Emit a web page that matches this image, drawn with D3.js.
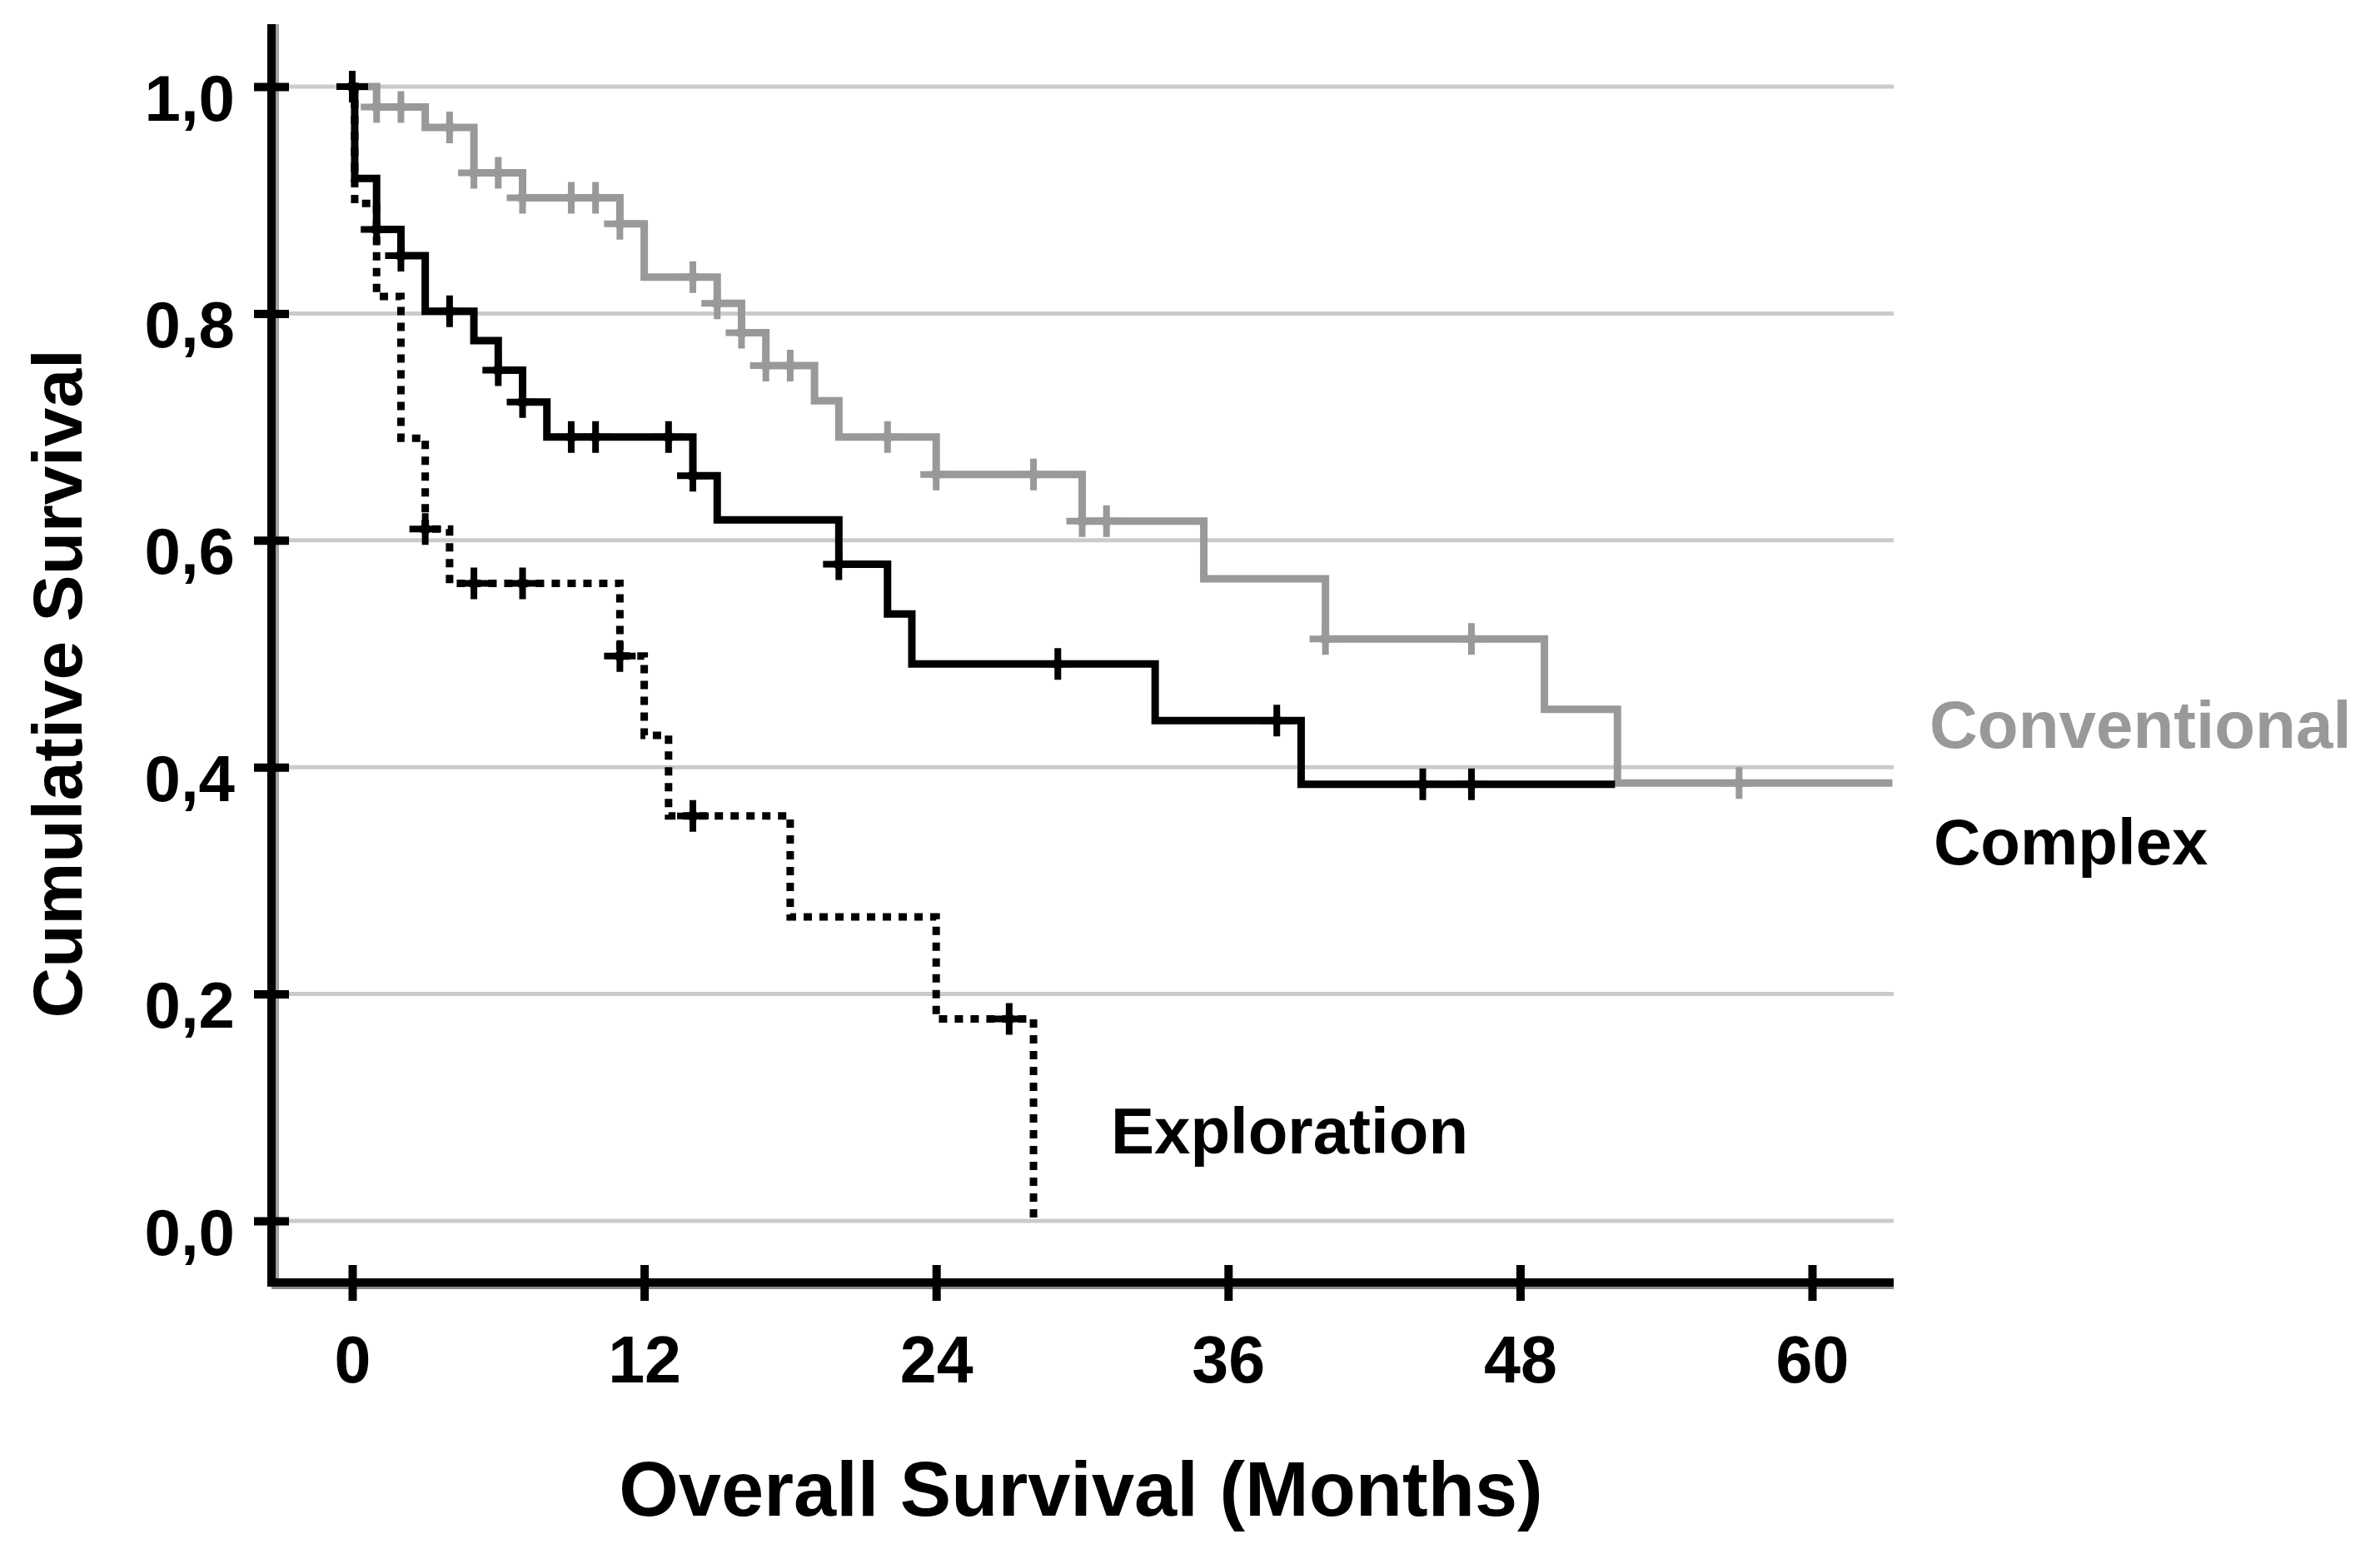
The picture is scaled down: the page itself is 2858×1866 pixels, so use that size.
<!DOCTYPE html>
<html>
<head>
<meta charset="utf-8">
<script src="https://d3js.org/d3.v7.min.js"></script>
<style>
body {
	margin: 0;
	background: #fff;
}
text {
	font-family: "Liberation Sans", Arial, sans-serif;
	font-weight: bold;
}
</style>
</head>
<body>
<div id="chart"></div>
<script>
	// survival steps (months, cumulative survival)
	var conventionalTimes = [0, 1, 3, 5, 7, 11, 12, 15, 16, 17, 19, 20, 24, 30, 35, 40, 49, 52, 63.3];
	var conventionalSurv  = [1.0, 0.982, 0.964, 0.924, 0.902, 0.879, 0.832, 0.809, 0.783, 0.754, 0.723, 0.691, 0.658, 0.617, 0.566, 0.513, 0.451, 0.386, 0.386];
	var conventionalCensored = [1, 2, 4, 5, 6, 7, 9, 10, 11, 14, 15, 16, 17, 18, 22, 24, 28, 30, 31, 40, 46, 57];

	var complexTimes = [0, 0.1, 1, 2, 3, 5, 6, 7, 8, 14, 15, 20, 22, 23, 33, 39, 51.9];
	var complexSurv  = [1.0, 0.919, 0.874, 0.851, 0.802, 0.776, 0.750, 0.722, 0.691, 0.657, 0.618, 0.579, 0.535, 0.491, 0.441, 0.385, 0.385];
	var complexCensored = [0, 1, 2, 4, 6, 7, 9, 10, 13, 14, 20, 29, 38, 44, 46];

	var explorationTimes = [0, 0.1, 1, 2, 3, 4, 11, 12, 13, 18, 24, 28];
	var explorationSurv  = [1.0, 0.897, 0.815, 0.690, 0.610, 0.562, 0.498, 0.428, 0.357, 0.268, 0.178, 0.0];
	var explorationCensored = [3, 5, 7, 11, 14, 27];

	var xTicks = [0, 12, 24, 36, 48, 60];
	var xTickLabels = ["0", "12", "24", "36", "48", "60"];
	var yTicks = [0, 0.2, 0.4, 0.6, 0.8, 1.0];
	var yTickLabels = ["0,0", "0,2", "0,4", "0,6", "0,8", "1,0"];

	var gray = "#999999";

	var W = 2858, H = 1866;
	var svg = d3.select("#chart").append("svg")
		.attr("width", W)
		.attr("height", H);

	svg.append("rect").attr("width", W).attr("height", H).attr("fill", "#fff");

	var x = d3.scaleLinear().domain([0, 60]).range([423, 2176]);
	var y = d3.scaleLinear().domain([0, 1]).range([1466, 104]);

	var axisX = 326, axisY = 1540, plotRight = 2274, plotTop = 29;

	// gridlines
	svg.append("g").selectAll("line")
		.data(yTicks)
		.enter().append("line")
		.attr("x1", axisX + 21)
		.attr("x2", plotRight)
		.attr("y1", d => y(d))
		.attr("y2", d => y(d))
		.attr("stroke", "#cbcbcb")
		.attr("stroke-width", 5);

	// axis shadows
	svg.append("line")
		.attr("x1", axisX + 7).attr("x2", axisX + 7)
		.attr("y1", plotTop).attr("y2", axisY + 5)
		.attr("stroke", "#a0a0a0").attr("stroke-width", 4);
	svg.append("line")
		.attr("x1", axisX).attr("x2", plotRight)
		.attr("y1", axisY + 6).attr("y2", axisY + 6)
		.attr("stroke", "#8a8a8a").attr("stroke-width", 4);

	// y axis
	var yAxis = svg.append("g")
		.attr("transform", "translate(" + axisX + ",0)")
		.call(d3.axisLeft(y).tickValues(yTicks)
			.tickFormat((d, i) => yTickLabels[i])
			.tickSize(21).tickPadding(0));
	yAxis.select(".domain").remove();
	yAxis.selectAll(".tick line")
		.attr("x1", -21).attr("x2", 21)
		.attr("stroke", "#000").attr("stroke-width", 10);
	yAxis.selectAll(".tick text")
		.attr("x", -44)
		.attr("dy", 40)
		.attr("fill", "#000")
		.style("font-size", "78px");

	svg.append("line")
		.attr("x1", axisX).attr("x2", axisX)
		.attr("y1", plotTop).attr("y2", axisY + 5)
		.attr("stroke", "#000").attr("stroke-width", 10);

	// x axis
	var xAxis = svg.append("g")
		.attr("transform", "translate(0," + axisY + ")")
		.call(d3.axisBottom(x).tickValues(xTicks)
			.tickFormat((d, i) => xTickLabels[i])
			.tickSize(22).tickPadding(0));
	xAxis.select(".domain").remove();
	xAxis.selectAll(".tick line")
		.attr("y1", -21).attr("y2", 22)
		.attr("stroke", "#000").attr("stroke-width", 10);
	xAxis.selectAll(".tick text")
		.attr("y", 120)
		.attr("dy", 0)
		.attr("fill", "#000")
		.style("font-size", "79px");

	svg.append("line")
		.attr("x1", axisX - 5).attr("x2", plotRight)
		.attr("y1", axisY).attr("y2", axisY)
		.attr("stroke", "#000").attr("stroke-width", 10);

	// titles
	svg.append("text")
		.attr("x", 1298)
		.attr("y", 1820)
		.attr("text-anchor", "middle")
		.style("font-size", "92px")
		.attr("fill", "#000")
		.text("Overall Survival (Months)");

	svg.append("text")
		.attr("transform", "translate(98,821) rotate(-90)")
		.attr("text-anchor", "middle")
		.style("font-size", "84px")
		.attr("fill", "#000")
		.text("Cumulative Survival");

	// curves
	var series = [
		{ name: "Conventional", times: conventionalTimes, surv: conventionalSurv, censored: conventionalCensored, color: gray, dash: null },
		{ name: "Exploration", times: explorationTimes, surv: explorationSurv, censored: explorationCensored, color: "#000", dash: "10,9" },
		{ name: "Complex", times: complexTimes, surv: complexSurv, censored: complexCensored, color: "#000", dash: null }
	];

	var line = d3.line()
		.x(d => x(d[0]))
		.y(d => y(d[1]))
		.curve(d3.curveStepAfter);

	function survAt(s, t) {
		var v = s.surv[0];
		for (var i = 0; i < s.times.length; i++) {
			if (s.times[i] <= t) v = s.surv[i];
		}
		return v;
	}

	series.forEach(function(s) {
		var pts = s.times.map((t, i) => [t, s.surv[i]]);
		svg.append("path")
			.attr("d", line(pts))
			.attr("fill", "none")
			.attr("stroke", s.color)
			.attr("stroke-width", 9)
			.attr("stroke-dasharray", s.dash)
			.attr("stroke-linejoin", "miter")
			.attr("stroke-linecap", "butt");

		var marks = svg.append("g").selectAll("g")
			.data(s.censored)
			.enter().append("g")
			.attr("transform", t => "translate(" + x(t) + "," + y(survAt(s, t)) + ")");
		marks.append("path")
			.attr("d", "M-19,0H19M0,-19V19")
			.attr("fill", "none")
			.attr("stroke", s.color)
			.attr("stroke-width", 8);
		marks.append("path")
			.attr("d", "M-11,0L0,-8L11,0L0,8Z")
			.attr("fill", s.color);
	});

	// curve labels
	svg.append("text")
		.attr("x", 2317).attr("y", 898)
		.attr("fill", gray)
		.style("font-size", "80px")
		.text("Conventional");
	svg.append("text")
		.attr("x", 2322).attr("y", 1038)
		.attr("fill", "#000")
		.style("font-size", "78px")
		.text("Complex");
	svg.append("text")
		.attr("x", 1334).attr("y", 1385)
		.attr("fill", "#000")
		.style("font-size", "78px")
		.text("Exploration");
</script>
</body>
</html>
